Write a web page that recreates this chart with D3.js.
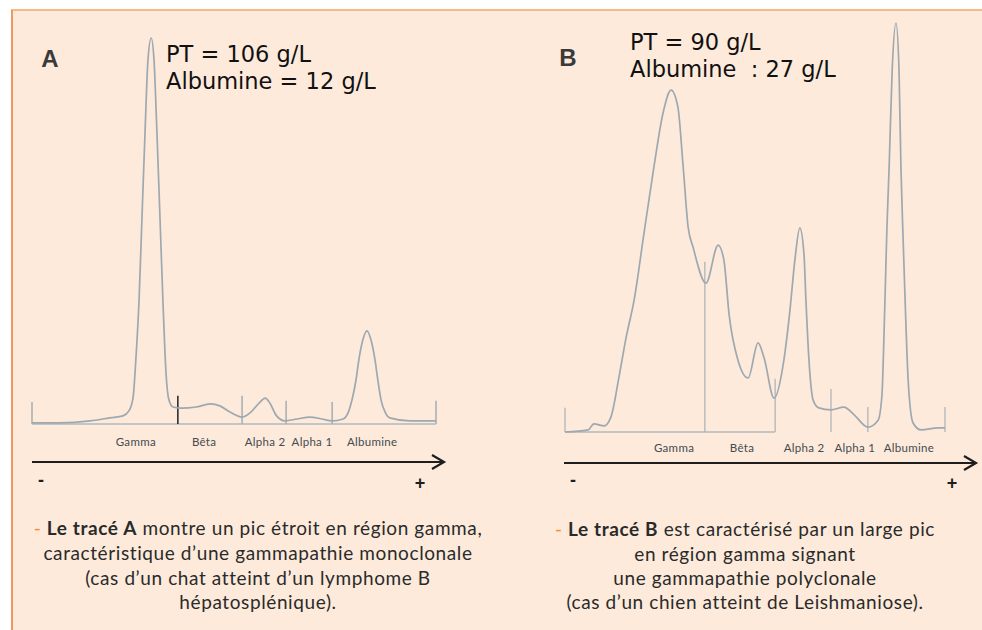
<!DOCTYPE html>
<html>
<head>
<meta charset="utf-8">
<script src="https://cdn.jsdelivr.net/npm/d3@7"></script>
<style>
  html, body { margin: 0; padding: 0; background: #ffffff; }
  svg { display: block; }
</style>
</head>
<body>
<svg id="chart" width="982" height="630"></svg>
<script>
// ---------------- DATA ----------------
// Panel A: relative migration position (0 = cathode, 100 = anode) and relative absorbance (gamma peak = 100)
const positionA = [0, 6.9, 14.4, 19.3, 22.5, 24.0, 25.0, 25.7, 26.5, 27.2, 28.0, 28.7, 29.5, 30.2, 30.9, 31.7, 32.4, 33.2, 33.9, 34.9, 37.1, 40.6, 44.1, 46.5, 49.0, 52.0, 54.2, 56.2, 57.7, 58.9, 60.4, 62.6, 65.6, 68.8, 71.8, 74.3, 77.0, 78.2, 79.2, 80.2, 80.9, 81.9, 82.9, 83.9, 84.9, 85.6, 86.4, 87.4, 88.6, 93.6, 100];
const absorbanceA = [0.3, 0.3, 0.8, 1.6, 2.1, 3.4, 6.7, 16.6, 32.1, 52.8, 76.2, 94.3, 100, 94.3, 76.2, 52.8, 32.1, 12.7, 6.2, 4.4, 4.1, 4.4, 5.2, 4.7, 3.1, 1.8, 3.1, 5.4, 6.7, 5.4, 2.3, 0.8, 1.3, 1.8, 1.3, 0.8, 1.3, 2.8, 6.2, 11.4, 16.6, 21.8, 24.1, 21.8, 16.6, 11.4, 6.2, 3.1, 1.6, 0.8, 0.8];

// Panel B
const positionB = [0, 6.1, 7.6, 10.3, 12.1, 14.2, 16.1, 18.2, 20.8, 23.4, 25.8, 27.9, 29.7, 31.1, 32.4, 33.7, 37.1, 40.3, 41.8, 43.2, 45.5, 48.2, 50.8, 52.4, 55.0, 57.6, 59.2, 60.5, 61.8, 62.9, 63.4, 64.2, 65.3, 66.8, 70.0, 73.4, 76.1, 79.7, 82.4, 83.4, 84.2, 84.7, 85.3, 86.1, 87.1, 87.9, 88.4, 88.9, 89.5, 90.3, 91.6, 93.7, 98.2, 100];
const absorbanceB = [0, 0.5, 2.0, 1.5, 3.7, 13.4, 23.2, 32.3, 48.7, 64.8, 78.0, 83.6, 79.5, 64.8, 50.1, 45.2, 36.4, 45.7, 42.1, 28.6, 17.6, 13.2, 21.8, 18.1, 8.3, 17.6, 29.8, 42.1, 49.9, 43.3, 32.3, 17.6, 7.8, 5.9, 5.4, 6.1, 4.2, 1.2, 2.9, 9.0, 32.3, 49.4, 64.8, 88.5, 100, 88.5, 64.8, 49.4, 32.3, 12.7, 2.2, 0.5, 1.0, 1.0];

// Fraction names and label positions
const fractions = ["Gamma", "Bêta", "Alpha 2", "Alpha 1", "Albumine"];
const labelPosA = [25.7, 42.6, 57.7, 69.3, 84.2];
const labelPosB = [28.7, 46.6, 62.9, 76.3, 90.5];

// Fraction boundaries (position, tick height in absorbance units)
const boundaryPosA = [0, 36.1, 52.0, 62.9, 74.3, 100];
const boundaryTopA = [5.7, 7.3, 7.3, 6.0, 5.7, 6.0];
const boundaryPosB = [0, 36.8, 55.3, 70.0, 79.7, 100];
const boundaryTopB = [5.9, 41.6, 13.0, 10.5, 6.1, 6.1];

// Header texts
const headerA = ["PT = 106 g/L", "Albumine = 12 g/L"];
const headerB = ["PT = 90 g/L", "Albumine  : 27 g/L"];

// ---------------- DRAW ----------------
const svg = d3.select("#chart");
const W = 982, H = 630;

// background panel
svg.append("rect").attr("x", 11).attr("y", 10).attr("width", W - 11).attr("height", H - 10)
  .attr("fill", "#fdeadb");
svg.append("line").attr("x1", 11).attr("x2", W).attr("y1", 10).attr("y2", 10)
  .attr("stroke", "#f8b988").attr("stroke-width", 2);
svg.append("line").attr("x1", 12).attr("x2", 12).attr("y1", 10).attr("y2", H)
  .attr("stroke", "#ee9a5c").attr("stroke-width", 2);

const curveColor = "#9ea8b0";

function panel(cfg) {
  const g = svg.append("g");
  const x = d3.scaleLinear().domain([0, 100]).range(cfg.xRange);
  const y = d3.scaleLinear().domain([0, 100]).range(cfg.yRange);

  // baseline
  g.append("line")
    .attr("x1", x(0)).attr("x2", x(cfg.baselineEnd))
    .attr("y1", y(0)).attr("y2", y(0))
    .attr("stroke", "#b0b8be").attr("stroke-width", 1.6);

  // boundaries
  g.selectAll("line.bnd").data(cfg.bPos).join("line")
    .attr("class", "bnd")
    .attr("x1", d => x(d)).attr("x2", d => x(d))
    .attr("y1", y(0)).attr("y2", (d, i) => y(cfg.bTop[i]))
    .attr("stroke", (d, i) => (cfg.darkIndex === i ? "#2e2e2e" : "#a9b1b7"))
    .attr("stroke-width", cfg.bWidth);

  // curve
  const line = d3.line()
    .x(d => x(d[0])).y(d => y(d[1]))
    .curve(d3.curveMonotoneX);
  const pts = cfg.px.map((v, i) => [v, cfg.py[i]]);
  g.append("path").datum(pts)
    .attr("d", line)
    .attr("fill", "none")
    .attr("stroke", curveColor)
    .attr("stroke-width", 1.7)
    .attr("stroke-linejoin", "round");

  // fraction labels
  g.selectAll("text.frac").data(fractions).join("text")
    .attr("class", "frac")
    .attr("x", (d, i) => x(cfg.labelPos[i]))
    .attr("y", cfg.labelY)
    .attr("text-anchor", "middle")
    .attr("font-family", "Lato, 'Open Sans', sans-serif")
    .attr("font-size", 11.5)
    .attr("letter-spacing", 0.3)
    .attr("fill", "#454a50")
    .text(d => d);

  // migration arrow
  const ax0 = cfg.arrow[0], ax1 = cfg.arrow[1], ay = cfg.arrow[2];
  g.append("line").attr("x1", ax0).attr("x2", ax1 - 1).attr("y1", ay).attr("y2", ay)
    .attr("stroke", "#1e1e1e").attr("stroke-width", 2);
  g.append("path")
    .attr("d", `M${ax1 - 12},${ay - 7} L${ax1},${ay} L${ax1 - 12},${ay + 7}`)
    .attr("fill", "none").attr("stroke", "#1e1e1e").attr("stroke-width", 2.2)
    .attr("stroke-linejoin", "miter");
  g.append("text").attr("x", cfg.minus[0]).attr("y", cfg.minus[1])
    .attr("text-anchor", "middle").attr("font-family", "'Liberation Sans', Arial, sans-serif")
    .attr("font-weight", "bold").attr("font-size", 18).attr("fill", "#1e1e1e").text("-");
  g.append("text").attr("x", cfg.plus[0]).attr("y", cfg.plus[1])
    .attr("text-anchor", "middle").attr("font-family", "'Liberation Sans', Arial, sans-serif")
    .attr("font-weight", "bold").attr("font-size", 18).attr("fill", "#1e1e1e").text("+");

  // panel letter
  g.append("text").attr("x", cfg.letter[0]).attr("y", cfg.letter[1])
    .attr("text-anchor", "middle")
    .attr("font-family", "'Liberation Sans', Arial, sans-serif")
    .attr("font-weight", "bold").attr("font-size", 24).attr("fill", "#3a3a3a")
    .text(cfg.letterText);

  // header text
  g.selectAll("text.hdr").data(cfg.header).join("text")
    .attr("class", "hdr")
    .attr("x", cfg.headerX)
    .attr("y", (d, i) => cfg.headerY[i])
    .attr("font-family", "'DejaVu Sans', sans-serif")
    .attr("font-size", 22.5)
    .attr("fill", "#111111")
    .style("white-space", "pre")
    .attr("xml:space", "preserve")
    .text(d => d);
}

panel({
  xRange: [32, 436], yRange: [424, 38], baselineEnd: 100,
  px: positionA, py: absorbanceA,
  bPos: boundaryPosA, bTop: boundaryTopA, darkIndex: 1, bWidth: 1.6,
  labelPos: labelPosA, labelY: 446,
  arrow: [32, 444, 462], minus: [41, 486], plus: [420, 489],
  letter: [50, 67], letterText: "A",
  header: headerA, headerX: 166, headerY: [62, 89]
});

panel({
  xRange: [565, 945], yRange: [432, 23], baselineEnd: 55.3,
  px: positionB, py: absorbanceB,
  bPos: boundaryPosB, bTop: boundaryTopB, darkIndex: -1, bWidth: 1.2,
  labelPos: labelPosB, labelY: 452,
  arrow: [564, 976, 463], minus: [573, 486], plus: [952, 489],
  letter: [568, 66], letterText: "B",
  header: headerB, headerX: 630, headerY: [50, 77]
});

// ---------------- CAPTIONS ----------------
const captionA = [
  [["- ", "dash"], ["Le tracé A", "bold"], [" montre un pic étroit en région gamma,", ""]],
  [["caractéristique d’une gammapathie monoclonale", ""]],
  [["(cas d’un chat atteint d’un lymphome B", ""]],
  [["hépatosplénique).", ""]]
];
const captionB = [
  [["- ", "dash"], ["Le tracé B", "bold"], [" est caractérisé par un large pic", ""]],
  [["en région gamma signant", ""]],
  [["une gammapathie polyclonale", ""]],
  [["(cas d’un chien atteint de Leishmaniose).", ""]]
];

function caption(lines, cx, ys) {
  lines.forEach((parts, i) => {
    const t = svg.append("text")
      .attr("x", cx).attr("y", ys[i])
      .attr("text-anchor", "middle")
      .attr("font-family", "Lato, 'Noto Sans', sans-serif")
      .attr("font-size", 19)
      .attr("letter-spacing", 0.6)
      .attr("fill", "#2a2a2a")
      .attr("xml:space", "preserve");
    parts.forEach(p => {
      t.append("tspan").text(p[0])
        .attr("font-weight", p[1] === "bold" ? "bold" : null)
        .attr("fill", p[1] === "dash" ? "#f28c3a" : null);
    });
  });
}
caption(captionA, 258, [535, 560, 585, 609]);
caption(captionB, 745, [536, 561, 585, 609]);
</script>
</body>
</html>
